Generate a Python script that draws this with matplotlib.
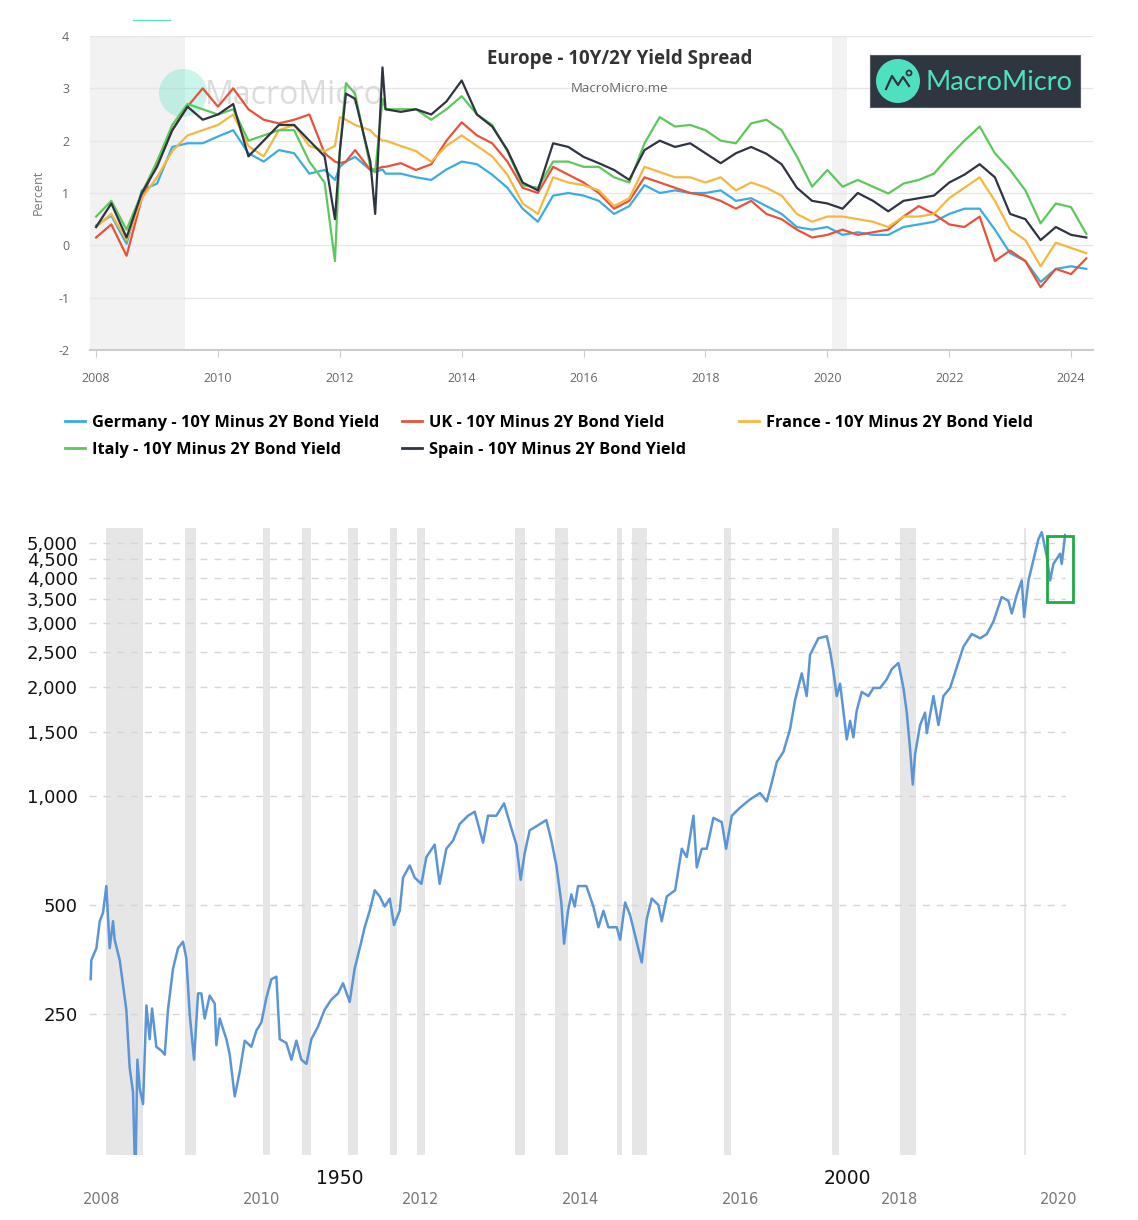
import matplotlib
matplotlib.use("Agg")
import matplotlib.pyplot as plt
from matplotlib.patches import Rectangle, Ellipse
from matplotlib.lines import Line2D
from matplotlib.transforms import ScaledTranslation
from matplotlib.ticker import NullLocator

plt.rcParams["axes.unicode_minus"] = False
W, H = 1138, 1220

# --- top panel: Europe 10Y minus 2Y spreads (percent) ---
SPREAD_DATES = [2008.0, 2008.25, 2008.5, 2008.75, 2009.0, 2009.25, 2009.5, 2009.75,
                2010.0, 2010.25, 2010.5, 2010.75, 2011.0, 2011.25, 2011.5, 2011.75,
                2011.92, 2012.0, 2012.1, 2012.25, 2012.5, 2012.58, 2012.7, 2012.75,
                2013.0, 2013.25, 2013.5, 2013.75, 2014.0, 2014.25, 2014.5, 2014.75,
                2015.0, 2015.25, 2015.5, 2015.75, 2016.0, 2016.25, 2016.5, 2016.75,
                2017.0, 2017.25, 2017.5, 2017.75, 2018.0, 2018.25, 2018.5, 2018.75,
                2019.0, 2019.25, 2019.5, 2019.75, 2020.0, 2020.25, 2020.5, 2020.75,
                2021.0, 2021.25, 2021.5, 2021.75, 2022.0, 2022.25, 2022.5, 2022.75,
                2023.0, 2023.25, 2023.5, 2023.75, 2024.0, 2024.25]
GERMANY = [0.38, 0.57, 0.03, 1.05, 1.18, 1.88, 1.95, 1.95,
           2.08, 2.2, 1.76, 1.6, 1.82, 1.76, 1.37, 1.44,
           1.25, 1.5, 1.6, 1.69, 1.44, 1.4, 1.45, 1.37,
           1.37, 1.3, 1.25, 1.45, 1.6, 1.55, 1.35, 1.1,
           0.7, 0.45, 0.95, 1.0, 0.95, 0.85, 0.6, 0.75,
           1.15, 1.0, 1.05, 1.0, 1.0, 1.05, 0.85, 0.9,
           0.75, 0.6, 0.35, 0.3, 0.35, 0.2, 0.25, 0.2,
           0.2, 0.35, 0.4, 0.45, 0.6, 0.7, 0.7, 0.3,
           -0.15, -0.3, -0.7, -0.45, -0.4, -0.45]
UK = [0.15, 0.4, -0.2, 0.9, 1.6, 2.2, 2.65, 3.0,
      2.65, 3.0, 2.6, 2.4, 2.33, 2.4, 2.5, 1.76,
      1.6, 1.57, 1.6, 1.82, 1.44, 1.45, 1.5, 1.5,
      1.57, 1.44, 1.55, 2.0, 2.35, 2.1, 1.95, 1.6,
      1.1, 1.0, 1.5, 1.35, 1.2, 1.0, 0.7, 0.85,
      1.3, 1.2, 1.1, 1.0, 0.95, 0.85, 0.7, 0.85,
      0.6, 0.5, 0.3, 0.15, 0.2, 0.3, 0.2, 0.25,
      0.3, 0.55, 0.75, 0.6, 0.4, 0.35, 0.55, -0.3,
      -0.1, -0.3, -0.8, -0.45, -0.55, -0.25]
FRANCE = [0.35, 0.6, 0.1, 0.9, 1.3, 1.8, 2.1, 2.2,
          2.3, 2.5, 1.9, 1.7, 2.2, 2.3, 1.9, 1.8,
          1.9, 2.45, 2.4, 2.3, 2.2, 2.1, 2.0, 2.0,
          1.9, 1.8, 1.6, 1.9, 2.1, 1.9, 1.7, 1.35,
          0.8, 0.6, 1.3, 1.2, 1.15, 1.05, 0.75, 0.9,
          1.5, 1.4, 1.3, 1.3, 1.2, 1.3, 1.05, 1.2,
          1.1, 0.95, 0.6, 0.45, 0.55, 0.55, 0.5, 0.45,
          0.35, 0.55, 0.55, 0.6, 0.9, 1.1, 1.3, 0.85,
          0.3, 0.1, -0.4, 0.05, -0.05, -0.15]
ITALY = [0.55, 0.85, 0.3, 1.0, 1.6, 2.3, 2.7, 2.6,
         2.5, 2.6, 2.0, 2.1, 2.2, 2.2, 1.6, 1.2,
         -0.3, 1.8, 3.1, 2.9, 1.5, 1.4, 2.8, 2.6,
         2.6, 2.6, 2.4, 2.6, 2.85, 2.5, 2.3, 1.8,
         1.15, 1.1, 1.6, 1.6, 1.5, 1.5, 1.3, 1.2,
         1.95, 2.45, 2.27, 2.3, 2.2, 2.0, 1.95, 2.33,
         2.4, 2.2, 1.7, 1.12, 1.44, 1.12, 1.25, 1.12,
         0.99, 1.18, 1.25, 1.37, 1.7, 2.0, 2.27, 1.76,
         1.44, 1.05, 0.42, 0.8, 0.73, 0.22]
SPAIN = [0.35, 0.8, 0.15, 1.0, 1.5, 2.2, 2.65, 2.4,
         2.5, 2.7, 1.7, 2.0, 2.3, 2.3, 2.0, 1.7,
         0.5, 1.8, 2.9, 2.8, 1.6, 0.6, 3.4, 2.6,
         2.55, 2.6, 2.5, 2.75, 3.15, 2.5, 2.27, 1.82,
         1.2, 1.05, 1.95, 1.88, 1.69, 1.57, 1.44, 1.25,
         1.82, 2.0, 1.88, 1.95, 1.76, 1.57, 1.76, 1.88,
         1.75, 1.55, 1.1, 0.85, 0.8, 0.7, 1.0, 0.85,
         0.65, 0.85, 0.9, 0.95, 1.2, 1.35, 1.55, 1.3,
         0.6, 0.5, 0.1, 0.35, 0.2, 0.15]
SERIES = [("Germany", GERMANY, "#3aade0"), ("UK", UK, "#e8523a"),
          ("France", FRANCE, "#f5b73f"), ("Italy", ITALY, "#5cc85a"),
          ("Spain", SPAIN, "#2e3440")]
LEGEND_COLUMNS = [["Germany", "Italy"], ["UK", "Spain"], ["France"]]
TOP_SHADE = [(2007.9, 2009.46), (2020.08, 2020.33)]

# --- bottom panel: S&P 500 (log scale) ---
SPX_YEARS = [1928.09, 1928.15, 1928.65, 1928.98, 1929.30, 1929.63, 1929.96, 1930.29, 1930.45,
             1930.95, 1931.28, 1931.60, 1931.93, 1932.26, 1932.49, 1932.69, 1932.92, 1933.25,
             1933.58, 1933.90, 1934.14, 1934.56, 1935.06, 1935.39, 1935.71, 1936.21, 1936.70,
             1937.19, 1937.52, 1937.85, 1938.28, 1938.67, 1939.00, 1939.33, 1939.82, 1940.32,
             1940.48, 1940.81, 1941.47, 1941.80, 1942.29, 1942.78, 1943.28, 1943.93, 1944.43,
             1944.92, 1945.41, 1945.91, 1946.40, 1946.73, 1947.38, 1947.88, 1948.37, 1948.86,
             1949.36, 1949.85, 1950.51, 1951.16, 1951.82, 1952.48, 1952.97, 1953.63, 1954.12,
             1954.62, 1955.11, 1955.60, 1956.10, 1956.59, 1957.08, 1957.58, 1958.00, 1958.56,
             1958.89, 1959.55, 1960.04, 1960.70, 1961.19, 1962.01, 1962.50, 1963.16, 1963.82,
             1964.48, 1965.30, 1965.96, 1966.78, 1967.27, 1968.09, 1968.85, 1969.57, 1970.07,
             1970.49, 1970.89, 1971.38, 1972.04, 1973.02, 1973.52, 1974.01, 1974.50, 1974.77,
             1975.16, 1975.49, 1975.82, 1976.15, 1976.97, 1977.66, 1978.16, 1978.65, 1979.14,
             1979.97, 1980.30, 1980.79, 1981.28, 1981.77, 1982.43, 1982.92, 1983.42, 1984.07,
             1984.40, 1984.90, 1985.72, 1986.05, 1986.38, 1986.87, 1987.53, 1987.86, 1988.35,
             1988.84, 1989.50, 1990.32, 1990.75, 1991.31, 1992.13, 1993.12, 1994.10, 1994.76,
             1995.25, 1995.75, 1996.40, 1997.06, 1997.55, 1998.21, 1998.70, 1999.03, 1999.85,
             2000.68, 2001.00, 2001.33, 2001.66, 2001.99, 2002.65, 2002.98, 2003.30, 2003.63,
             2004.13, 2004.78, 2005.28, 2005.93, 2006.59, 2007.08, 2007.74, 2008.24, 2008.57,
             2008.90, 2009.16, 2009.39, 2009.88, 2010.37, 2010.54, 2011.20, 2011.69, 2012.18,
             2012.84, 2013.50, 2014.16, 2014.98, 2015.80, 2016.46, 2017.11, 2017.93, 2018.59,
             2018.92, 2019.41, 2019.91, 2020.14, 2020.57, 2021.06, 2021.55, 2021.88, 2022.37,
             2022.70, 2023.03, 2023.69, 2023.85, 2024.18]
SPX_VALUES = [312, 352, 380, 451, 476, 564, 380, 451, 401,
              352, 300, 257, 178, 152, 85, 187, 156, 141,
              264, 213, 259, 203, 198, 193, 257, 334, 380,
              396, 356, 250, 187, 285, 285, 243, 281, 267,
              205, 243, 213, 193, 148, 173, 211, 203, 225,
              237, 277, 312, 317, 213, 208, 187, 211, 187,
              182, 213, 231, 257, 274, 285, 304, 270, 334,
              380, 434, 482, 549, 528, 495, 521, 440, 482,
              595, 643, 595, 572, 678, 734, 572, 715, 753,
              837, 882, 905, 743, 882, 882, 954, 815, 734,
              587, 696, 804, 825, 858, 753, 643, 508, 391,
              482, 535, 495, 564, 564, 495, 434, 482, 434,
              434, 401, 508, 469, 412, 347, 457, 521, 500,
              451, 528, 549, 627, 715, 678, 882, 635, 715,
              715, 870, 847, 715, 882, 929, 979, 1019, 966,
              1088, 1241, 1324, 1530, 1839, 2181, 1888, 2454, 2726,
              2762, 2519, 2210, 1888, 2042, 1433, 1613, 1452, 1722,
              1938, 1888, 1988, 1988, 2099, 2239, 2330, 1988, 1699,
              1342, 1075, 1307, 1570, 1699, 1491, 1888, 1570, 1888,
              1988, 2268, 2587, 2800, 2726, 2800, 3031, 3545, 3456,
              3191, 3593, 3937, 3120, 3937, 4490, 5120, 5350, 4595,
              3937, 4373, 4669, 4373, 5255]
RECESSIONS = [(1929.6, 1933.2), (1937.4, 1938.5), (1945.1, 1945.8), (1948.9, 1949.8),
              (1953.5, 1954.4), (1957.6, 1958.3), (1960.3, 1961.1), (1969.9, 1970.9),
              (1973.9, 1975.2), (1980.0, 1980.5), (1981.5, 1982.9), (1990.5, 1991.2),
              (2001.2, 2001.9), (2007.9, 2009.5), (2020.1, 2020.3)]
SPX_TICKS = [250, 500, 1000, 1500, 2000, 2500, 3000, 3500, 4000, 4500, 5000]
DECADE_TICKS = [1950, 2000]
OVERLAY_TICKS = [2008, 2010, 2012, 2014, 2016, 2018, 2020]
HIGHLIGHT_BOX = (2022.4, 2024.97, 3435, 5210)   # x0, x1, y0, y1


def fx(x):
    return x / W


def fy(y):
    return 1 - y / H


fig = plt.figure(figsize=(W / 100, H / 100), dpi=100)
TOPFONT = ["Open Sans", "DejaVu Sans"]

# =========================== top panel ============================
ax1 = fig.add_axes([fx(90), fy(350), fx(1003), 314 / H])
for a, b in TOP_SHADE:
    ax1.axvspan(a, b, color="#f2f2f2", lw=0, zorder=0)
for name, vals, col in SERIES:
    ax1.plot(SPREAD_DATES, vals, color=col, lw=1.6, zorder=3)

ax1.set_xlim(2007.9, 2024.36)
ax1.set_ylim(-2, 4)
ax1.set_yticks(range(-2, 5))
ax1.set_xticks(range(2008, 2025, 2))
ax1.yaxis.grid(True, color="#e6e6e6", lw=1)
ax1.set_axisbelow(True)
for s in ("top", "right", "left"):
    ax1.spines[s].set_visible(False)
ax1.spines["bottom"].set_color("#cccccc")
ax1.spines["bottom"].set_linewidth(1.5)
ax1.tick_params(axis="y", length=0, pad=15, labelsize=9, labelcolor="#666666")
ax1.tick_params(axis="x", length=5, color="#cccccc", pad=11, labelsize=9, labelcolor="#666666")
for lab in ax1.get_xticklabels() + ax1.get_yticklabels():
    lab.set_family(TOPFONT)
fig.text(fx(38), fy(192), "Percent", rotation=90, ha="center", va="center",
         fontsize=9, color="#777777", family=TOPFONT)

# watermark behind the lines
ax1.add_patch(Ellipse((fx(183), fy(93)), 48 / W, 48 / H, transform=fig.transFigure,
                      color="#4fe0c0", alpha=0.3, lw=0, zorder=1, clip_on=False))
ax1.text(fx(205), fy(95), "MacroMicro", transform=fig.transFigure, fontsize=23,
         color="#d4d4d4", alpha=0.8, va="center", ha="left", family=TOPFONT, zorder=1)

# title
fig.text(fx(620), fy(59), "Europe - 10Y/2Y Yield Spread", ha="center", va="center",
         fontsize=13.5, fontweight="bold", color="#333333", family=TOPFONT)
fig.text(fx(620), fy(88), "MacroMicro.me", ha="center", va="center",
         fontsize=9.5, color="#666666", family=TOPFONT)

# logo box
fig.add_artist(Rectangle((fx(870), fy(107)), fx(210), 52 / H, transform=fig.transFigure,
                         facecolor="#30363f", edgecolor="#555b63", lw=0.8))
fig.add_artist(Ellipse((fx(898), fy(81)), 44 / W, 44 / H, transform=fig.transFigure,
                       facecolor="#4fe0c0", lw=0))
icon_x = [886, 892, 898, 903, 909]
icon_y = [89, 76, 85, 77, 86]
fig.add_artist(Line2D([fx(v) for v in icon_x], [fy(v) for v in icon_y],
                      transform=fig.transFigure, color="#30363f", lw=1.6))
fig.add_artist(Ellipse((fx(909), fy(73)), 5 / W, 5 / H, transform=fig.transFigure,
                       facecolor="none", edgecolor="#30363f", lw=1.3))
fig.text(fx(926), fy(82), "MacroMicro", ha="left", va="center", fontsize=19.5,
         color="#4fe0c0", family=["Lato", "DejaVu Sans"])
fig.add_artist(Line2D([fx(133), fx(170)], [fy(20), fy(20)], transform=fig.transFigure,
                      color="#5fe0c8", lw=1))

# legend: fixed-width columns like the html legend, one legend per column
handles = {n: Line2D([], [], color=c, lw=2) for n, _, c in SERIES}
for col_x, names in zip([50, 387, 724], LEGEND_COLUMNS):
    fig.legend([handles[n] for n in names],
               [f"{n} - 10Y Minus 2Y Bond Yield" for n in names],
               loc="upper left", bbox_to_anchor=(fx(col_x), fy(400)), ncol=1, frameon=False,
               prop={"family": TOPFONT, "weight": "bold", "size": 11.8},
               handlelength=1.25, handletextpad=0.4, labelspacing=0.7)

# ========================== bottom panel ==========================
ax2 = fig.add_axes([fx(89), fy(1155), fx(1066 - 89), 627 / H])
for a, b in RECESSIONS:
    ax2.axvspan(a, b, color="#e6e6e6", lw=0, zorder=0)
ax2.plot(SPX_YEARS, SPX_VALUES, color="#5b95d5", lw=1.8, zorder=3)
x0, x1, y0, y1 = HIGHLIGHT_BOX
ax2.add_patch(Rectangle((x0, y0), x1 - x0, y1 - y0, fill=False, edgecolor="#1faa45",
                        lw=2, clip_on=False, zorder=4))

ax2.set_yscale("log")
ax2.set_ylim(102, 5496)
ax2.set_xlim(1927.92, 2024.27)
ax2.set_yticks(SPX_TICKS)
ax2.set_yticklabels([f"{v:,}" for v in SPX_TICKS])
ax2.yaxis.set_minor_locator(NullLocator())
ax2.yaxis.grid(True, color="#d6d6d6", lw=1, linestyle=(0, (5, 5)))
ax2.set_axisbelow(False)
for s in ax2.spines.values():
    s.set_visible(False)
ax2.tick_params(axis="y", length=0, pad=8, labelsize=13, labelcolor="#111111")

ax2.set_xticks(DECADE_TICKS)
ax2.set_xticklabels([str(v) for v in DECADE_TICKS])
ax2.tick_params(axis="x", length=0, pad=10, labelsize=13.5, labelcolor="#111111")
shift = ScaledTranslation(27 / 100, 0, fig.dpi_scale_trans)
for t in ax2.xaxis.get_major_ticks():
    t.label1.set_transform(t.label1.get_transform() + shift)


# second, unrelated year scale printed under the chart
def to_overlay(r):
    return 2008.0502 + (r - 1929.6) * 0.12715


def from_overlay(f):
    return 1929.6 + (f - 2008.0502) / 0.12715


sec = ax2.secondary_xaxis("bottom", functions=(to_overlay, from_overlay))
sec.set_xticks(OVERLAY_TICKS)
sec.tick_params(axis="x", length=0, pad=27, labelsize=10.5, labelcolor="#777777")
for s in sec.spines.values():
    s.set_visible(False)

fig.savefig("out.png", dpi=100, facecolor="white")
